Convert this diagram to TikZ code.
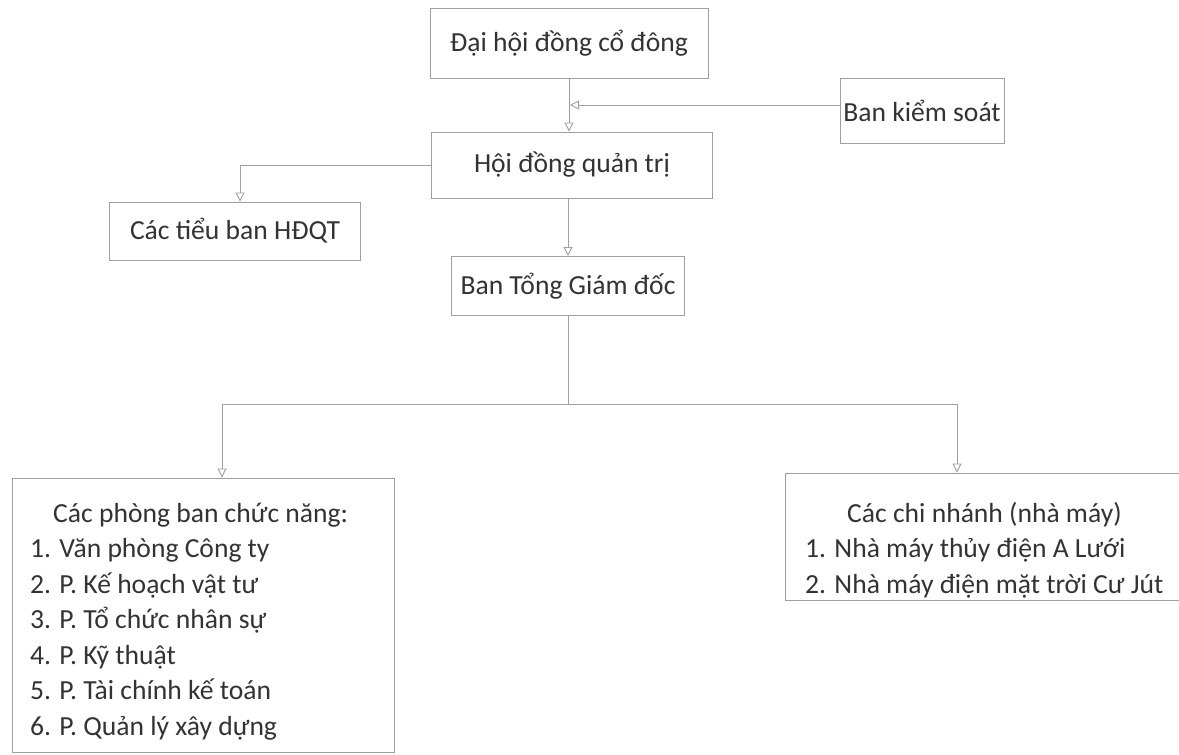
\documentclass[tikz,border=0pt]{standalone}
\usepackage{fontspec}
\setmainfont{Carlito}
\usetikzlibrary{arrows.meta}
\begin{document}
\begin{tikzpicture}[x=1pt,y=-1pt,
    box node/.style={draw=gray!75,line width=0.9pt,text=black!80,font=\fontsize{27.6}{35.5}\selectfont,inner sep=0pt},
    line node/.style={anchor=base west,text=black!80,font=\fontsize{27.6}{35.5}\selectfont,inner sep=0pt},
    link/.style={draw=gray!75,line width=0.9pt,-{Triangle[open,length=9pt,width=9pt]}}]
    \useasboundingbox (0,0) rectangle (1179,755);
    \clip (0,0) rectangle (1179,755);
    \fill[white] (0,0) rectangle (1179,755);

    \node[box node,minimum width=278,minimum height=70] (dhcd) at (569,43) {Đại hội đồng cổ đông};
    \node[box node,minimum width=164,minimum height=65] (bks) at (922,111) {Ban kiểm soát};
    \node[box node,minimum width=281,minimum height=66] (hdqt) at (572,165) {Hội đồng quản trị};
    \node[box node,minimum width=251,minimum height=58] (tieuban) at (235,231) {Các tiểu ban HĐQT};
    \node[box node,minimum width=233,minimum height=59] (tgd) at (568,286) {Ban Tổng Giám đốc};

    % phong ban
    \node[box node,minimum width=382,minimum height=274] (phong) at (203,615) {};
    \node[line node] (phonghead) at (53,522) {Các phòng ban chức năng:};
    \foreach \i/\txt in {1/Văn phòng Công ty,2/P. Kế hoạch vật tư,3/P. Tổ chức nhân sự,
                         4/P. Kỹ thuật,5/P. Tài chính kế toán,6/P. Quản lý xây dựng}
        \node[line node] (phong\i) at (30,522+35.5*\i) {\i. \txt};

    % chi nhanh
    \node[box node,minimum width=396,minimum height=127] (chinhanh) at (983,536.5) {};
    \node[line node] (chihead) at (847,522) {Các chi nhánh (nhà máy)};
    \node[line node] (chi1) at (805,557.5) {1. Nhà máy thủy điện A Lưới};
    \node[line node] (chi2) at (805,593) {2. Nhà máy điện mặt trời Cư Jút};

    \draw[link] (dhcd.south) -- (dhcd.south |- hdqt.north);
    \draw[link] (bks.west |- 0,105) -- (570,105);
    \draw[link] (hdqt.west) -| ([xshift=5]tieuban.north);
    \draw[link] (hdqt.south -| tgd.north) -- (tgd.north);
    \draw[draw=gray!75,line width=0.9pt] (tgd.south) -- ++(0,88) coordinate (split);
    \draw[link] (split) -| ([xshift=19]phong.north);
    \draw[link] (split) -| ([xshift=-26]chinhanh.north);
\end{tikzpicture}
\end{document}
